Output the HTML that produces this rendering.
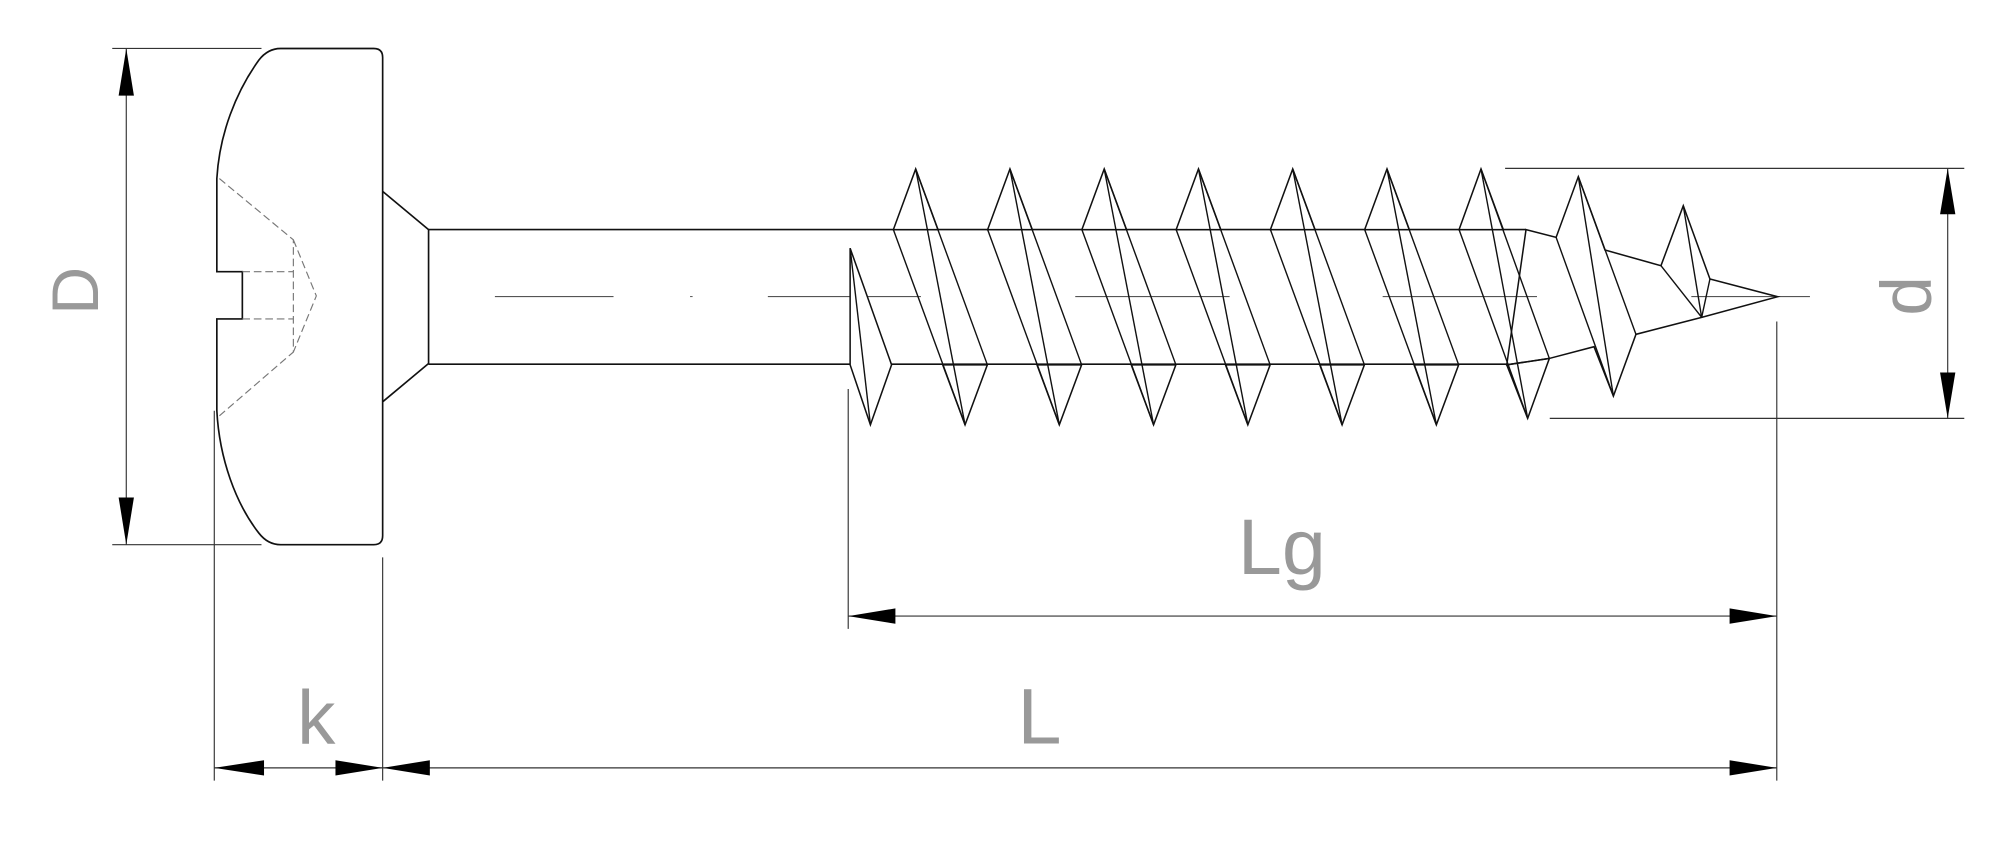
<!DOCTYPE html>
<html><head><meta charset="utf-8"><style>html,body{margin:0;padding:0;background:#fff}svg{display:block}</style></head>
<body>
<svg width="2000" height="861" viewBox="0 0 1568 675" xmlns="http://www.w3.org/2000/svg">
<rect width="1568" height="675" fill="#fff"/>
<g stroke="#333" stroke-width="0.9" fill="none">
<line x1="88" y1="38" x2="205" y2="38"/>
<line x1="88" y1="427" x2="205" y2="427"/>
<line x1="99" y1="38" x2="99" y2="427"/>
<line x1="168" y1="322" x2="168" y2="612"/>
<line x1="300" y1="437" x2="300" y2="612"/>
<line x1="168" y1="602" x2="1393" y2="602"/>
<line x1="665" y1="305" x2="665" y2="493"/>
<line x1="1393" y1="252" x2="1393" y2="612"/>
<line x1="665" y1="483" x2="1393" y2="483"/>
<line x1="1180" y1="132" x2="1540" y2="132"/>
<line x1="1215" y1="328" x2="1540" y2="328"/>
<line x1="1527" y1="132" x2="1527" y2="328"/>
</g>
<g fill="#000">
<polygon points="99,38 93,75 105,75"/>
<polygon points="99,427 93,390 105,390"/>
<polygon points="1527,132 1521,168 1533,168"/>
<polygon points="1527,328 1521,292 1533,292"/>
<polygon points="665,483 702,477 702,489"/>
<polygon points="1393,483 1356,477 1356,489"/>
<polygon points="300,602 337,596 337,608"/>
<polygon points="1393,602 1356,596 1356,608"/>
<polygon points="168,602 207,596 207,608"/>
<polygon points="300,602 263,596 263,608"/>
</g>
<g stroke="#555" stroke-width="0.8">
<line x1="388" y1="232.5" x2="481" y2="232.5"/>
<line x1="541" y1="232.5" x2="543" y2="232.5"/>
<line x1="602" y1="232.5" x2="722" y2="232.5"/>
<line x1="843" y1="232.5" x2="964" y2="232.5"/>
<line x1="1084" y1="232.5" x2="1205" y2="232.5"/>
<line x1="1326" y1="232.5" x2="1419" y2="232.5"/>
</g>
<g stroke="#111" stroke-width="1.3" fill="none">
<path d="M220,38 L293,38 Q300,38 300,45 L300,420 Q300,427 293,427 L220,427 Q210,427 203,418 C185,395 172,360 170,322 L170,250 L190,250 L190,213 L170,213 L170,140 C172,105 185,72 203,47 Q210,38 220,38 Z"/>
<polyline points="300,150 336,180 336,285 300,315"/>
<line x1="336" y1="180" x2="1196.4" y2="180"/>
<line x1="336" y1="285.5" x2="1181.3" y2="285.5"/>
</g>
<g stroke="#777" stroke-width="0.9" fill="none" stroke-dasharray="6,3">
<polyline points="172,140 230,188 230,276 172,326"/>
<polyline points="230,188 248,232 230,276"/>
<line x1="190" y1="213" x2="230" y2="213"/>
<line x1="190" y1="250" x2="230" y2="250"/>
</g>
<g stroke="#111" stroke-width="1.2" fill="#fff">
<polygon points="666.5,194.6 699,286 682.4,333 666.5,286"/>
<polygon points="700.4,180 717.9,132.5 735.4,180"/>
<polygon points="774.3,180 791.8,132.5 809.3,180"/>
<polygon points="848.2,180 865.7,132.5 883.2,180"/>
<polygon points="922.1,180 939.6,132.5 957.1,180"/>
<polygon points="996,180 1013.5,132.5 1031,180"/>
<polygon points="1069.9,180 1087.4,132.5 1104.9,180"/>
<polygon points="1143.9,180 1161.1,132.5 1178.6,180"/>
<polygon points="739.1,286 756.6,333 774.1,286"/>
<polygon points="813,286 830.5,333 848,286"/>
<polygon points="886.9,286 904.4,333 921.9,286"/>
<polygon points="960.8,286 978.3,333 995.8,286"/>
<polygon points="1034.7,286 1052.2,333 1069.7,286"/>
<polygon points="1108.6,286 1126.1,333 1143.6,286"/>
<polygon points="1181.3,286 1197.7,328 1214.7,281"/>
<polygon points="1196.4,180 1220,186.1 1237.4,138.5 1258.3,196 1302.2,208.3 1319.7,161.3 1340.6,218.7 1393.7,232.6 1334.1,248.8 1282.6,262.1 1264.9,310.5 1249.7,271.8 1214.7,281 1181.3,286" fill="none"/>
</g>
<g stroke="#111" stroke-width="1.1">
<line x1="666.5" y1="194.6" x2="682.4" y2="333"/>
<line x1="700.4" y1="180" x2="756.6" y2="333"/><line x1="717.9" y1="132.5" x2="756.6" y2="333"/><line x1="717.9" y1="132.5" x2="774.1" y2="286"/>
<line x1="774.3" y1="180" x2="830.5" y2="333"/><line x1="791.8" y1="132.5" x2="830.5" y2="333"/><line x1="791.8" y1="132.5" x2="848" y2="286"/>
<line x1="848.2" y1="180" x2="904.4" y2="333"/><line x1="865.7" y1="132.5" x2="904.4" y2="333"/><line x1="865.7" y1="132.5" x2="921.9" y2="286"/>
<line x1="922.1" y1="180" x2="978.3" y2="333"/><line x1="939.6" y1="132.5" x2="978.3" y2="333"/><line x1="939.6" y1="132.5" x2="995.8" y2="286"/>
<line x1="996" y1="180" x2="1052.2" y2="333"/><line x1="1013.5" y1="132.5" x2="1052.2" y2="333"/><line x1="1013.5" y1="132.5" x2="1069.7" y2="286"/>
<line x1="1069.9" y1="180" x2="1126.1" y2="333"/><line x1="1087.4" y1="132.5" x2="1126.1" y2="333"/><line x1="1087.4" y1="132.5" x2="1143.6" y2="286"/>
<line x1="1143.9" y1="180" x2="1197.7" y2="328"/><line x1="1161.1" y1="132.5" x2="1197.7" y2="328"/><line x1="1161.1" y1="132.5" x2="1214.7" y2="281"/>
<line x1="1220" y1="186.1" x2="1264.9" y2="310.5"/><line x1="1237.4" y1="138.5" x2="1264.9" y2="310.5"/><line x1="1237.4" y1="138.5" x2="1282.6" y2="262.1"/>
<line x1="1302.2" y1="208.3" x2="1334.1" y2="248.8"/><line x1="1319.7" y1="161.3" x2="1334.1" y2="248.8"/><line x1="1340.6" y1="218.7" x2="1334.1" y2="248.8"/>
</g>
<g font-family="Liberation Sans, sans-serif" fill="#999">
<text x="0" y="0" font-size="52" text-anchor="middle" transform="translate(77,228) rotate(-90)">D</text>
<text x="0" y="0" font-size="56" text-anchor="middle" transform="translate(1514,232) rotate(-90)">d</text>
<text x="1005" y="450" font-size="62" text-anchor="middle">Lg</text>
<text x="815" y="583" font-size="62" text-anchor="middle">L</text>
<text x="248" y="583" font-size="60" text-anchor="middle">k</text>
</g>
</svg>
</body></html>
